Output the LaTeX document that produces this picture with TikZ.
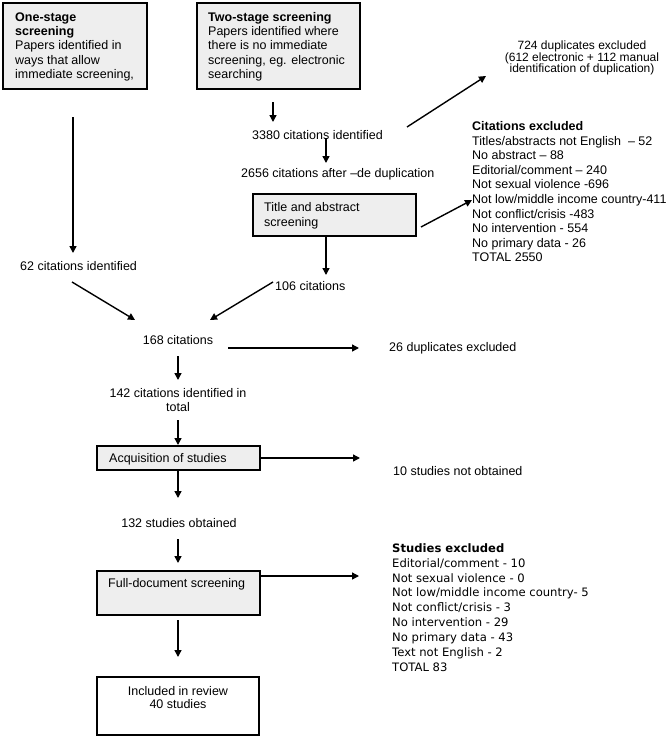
\documentclass[tikz,border=0pt]{standalone}
\usepackage{fontspec}
\setmainfont{Liberation Sans}
\newfontfamily\verd{DejaVu Sans}
\usetikzlibrary{arrows.meta}
\definecolor{boxgray}{HTML}{EEEEEE}
\tikzset{
  txt/.style={inner sep=0pt, font=\fontsize{12.5}{14.5}\selectfont},
  smalltxt/.style={inner sep=0pt, font=\fontsize{12}{12}\selectfont},
  vtxt/.style={inner sep=0pt, font=\verd\fontsize{11.6}{14.5}\selectfont},
  graybox/.style={draw=black, line width=1.5pt, fill=boxgray},
  whitebox/.style={draw=black, line width=2pt, fill=white},
  arr/.style={line width=1.4pt, -{Triangle[length=7pt,width=7pt]}},
}
\begin{document}
\begin{tikzpicture}[x=1pt,y=-1pt]
\useasboundingbox (0,0) rectangle (668,739);
\fill[white] (0,0) rectangle (668,739);

% top boxes
\draw[graybox] (3,3) rectangle (147,89);
\node[txt,anchor=base west,font=\bfseries\fontsize{12.5}{14.5}\selectfont] (o1) at (15,21) {One-stage};
\node[txt,anchor=base west,font=\bfseries\fontsize{12.5}{14.5}\selectfont] (o2) at (15,35) {screening};
\node[txt,anchor=base west] (o3) at (15,49.5) {Papers identified in};
\node[txt,anchor=base west] (o4) at (15,64) {ways that allow};
\node[txt,anchor=base west] (o5) at (15,78.5) {immediate screening,};

\draw[graybox] (197,3) rectangle (360,89);
\node[txt,anchor=base west,font=\bfseries\fontsize{12.5}{14.5}\selectfont] (t1) at (208,21) {Two-stage screening};
\node[txt,anchor=base west] (t2) at (208,35) {Papers identified where};
\node[txt,anchor=base west] (t3) at (208,49.5) {there is no immediate};
\node[txt,anchor=base west] (t4) at (208,64) {screening, eg. electronic};
\node[txt,anchor=base west] (t5) at (208,78.5) {searching};

% two-stage branch
\coordinate (a1s) at (273,102); \coordinate (a1e) at (273,122);
\draw[arr] (a1s) -- (a1e);
\node[txt,anchor=base west] (c3380) at (252,139) {3380 citations identified};
\coordinate (a2s) at (326,138); \coordinate (a2e) at (326,163);
\draw[arr] (a2s) -- (a2e);
\node[txt,anchor=base west] (c2656) at (241,177) {2656 citations after --de duplication};

\draw[graybox] (253,194) rectangle (416,236);
\node[txt,anchor=base west] (ta1) at (264,211) {Title and abstract};
\node[txt,anchor=base west] (ta2) at (264,226) {screening};
\coordinate (a3s) at (326,236); \coordinate (a3e) at (326,275);
\draw[arr] (a3s) -- (a3e);
\node[txt,anchor=base west] (c106) at (275,290) {106 citations};

% duplicates excluded
\node[smalltxt,anchor=base] (d1) at (582,49) {724 duplicates excluded};
\node[smalltxt,anchor=base] (d2) at (582,61) {(612 electronic + 112 manual};
\node[smalltxt,anchor=base] (d3) at (582,72.5) {identification of duplication)};
\coordinate (a4s) at (407,127); \coordinate (a4e) at (486,76);
\draw[arr] (a4s) -- (a4e);

% citations excluded
\node[txt,anchor=base west,font=\bfseries\fontsize{12.5}{14.5}\selectfont] (ce0) at (472,130.5) {Citations excluded};
\node[txt,anchor=base west] (ce1) at (472,145) {Titles/abstracts not English \ -- 52};
\node[txt,anchor=base west] (ce2) at (472,159.5) {No abstract -- 88};
\node[txt,anchor=base west] (ce3) at (472,174) {Editorial/comment -- 240};
\node[txt,anchor=base west] (ce4) at (472,188.5) {Not sexual violence -696};
\node[txt,anchor=base west] (ce5) at (472,203.5) {Not low/middle income country-411};
\node[txt,anchor=base west] (ce6) at (472,218) {Not conflict/crisis -483};
\node[txt,anchor=base west] (ce7) at (472,232.5) {No intervention - 554};
\node[txt,anchor=base west] (ce8) at (472,247) {No primary data - 26};
\node[txt,anchor=base west] (ce9) at (472,261) {TOTAL 2550};
\coordinate (a5s) at (421,227); \coordinate (a5e) at (472,200);
\draw[arr] (a5s) -- (a5e);

% one-stage branch
\coordinate (a6s) at (73,117); \coordinate (a6e) at (73,253);
\draw[arr] (a6s) -- (a6e);
\node[txt,anchor=base west] (c62) at (20,270) {62 citations identified};

\coordinate (a7s) at (72,282); \coordinate (a7e) at (135,320);
\draw[arr] (a7s) -- (a7e);
\coordinate (a8s) at (273,282); \coordinate (a8e) at (210,320);
\draw[arr] (a8s) -- (a8e);

% main column
\node[txt,anchor=base] (c168) at (178,344) {168 citations};
\coordinate (a9s) at (228,348); \coordinate (a9e) at (359,348);
\draw[arr] (a9s) -- (a9e);
\node[txt,anchor=base west] (dup26) at (389,351) {26 duplicates excluded};

\coordinate (a10s) at (178,356); \coordinate (a10e) at (178,380);
\draw[arr] (a10s) -- (a10e);
\node[txt,anchor=base] (c142a) at (178,397) {142 citations identified in};
\node[txt,anchor=base] (c142b) at (178,411) {total};
\coordinate (a11s) at (178,420); \coordinate (a11e) at (178,445);
\draw[arr] (a11s) -- (a11e);

\draw[graybox] (97,446) rectangle (260,470);
\node[txt,anchor=base west] (acq) at (109,462.5) {Acquisition of studies};
\coordinate (a12s) at (260,458); \coordinate (a12e) at (360,458);
\draw[arr] (a12s) -- (a12e);
\node[txt,anchor=base west] (notob) at (393,475) {10 studies not obtained};
\coordinate (a13s) at (178,470); \coordinate (a13e) at (178,498);
\draw[arr] (a13s) -- (a13e);

\node[txt,anchor=base] (c132) at (179,527) {132 studies obtained};
\coordinate (a14s) at (178,539); \coordinate (a14e) at (178,563);
\draw[arr] (a14s) -- (a14e);

\draw[graybox] (97,571) rectangle (260,615);
\node[txt,anchor=base west] (full) at (108,587) {Full-document screening};
\coordinate (a15s) at (260,576); \coordinate (a15e) at (359,576);
\draw[arr] (a15s) -- (a15e);
\coordinate (a16s) at (178,620); \coordinate (a16e) at (178,657);
\draw[arr] (a16s) -- (a16e);

\draw[whitebox] (97,677) rectangle (259,735);
\node[txt,anchor=base] (inc1) at (178,695) {Included in review};
\node[txt,anchor=base] (inc2) at (178,708.5) {40 studies};

% studies excluded
\node[vtxt,anchor=base west,font=\verd\bfseries\fontsize{11.6}{14.5}\selectfont] (se0) at (392,552.3) {Studies excluded};
\node[vtxt,anchor=base west] (se1) at (392,567.2) {Editorial/comment - 10};
\node[vtxt,anchor=base west] (se2) at (392,582) {Not sexual violence - 0};
\node[vtxt,anchor=base west] (se3) at (392,596.9) {Not low/middle income country- 5};
\node[vtxt,anchor=base west] (se4) at (392,611.8) {Not conflict/crisis - 3};
\node[vtxt,anchor=base west] (se5) at (392,626.7) {No intervention - 29};
\node[vtxt,anchor=base west] (se6) at (392,641.5) {No primary data - 43};
\node[vtxt,anchor=base west] (se7) at (392,656.4) {Text not English - 2};
\node[vtxt,anchor=base west] (se8) at (392,671.3) {TOTAL 83};
\end{tikzpicture}
\end{document}
